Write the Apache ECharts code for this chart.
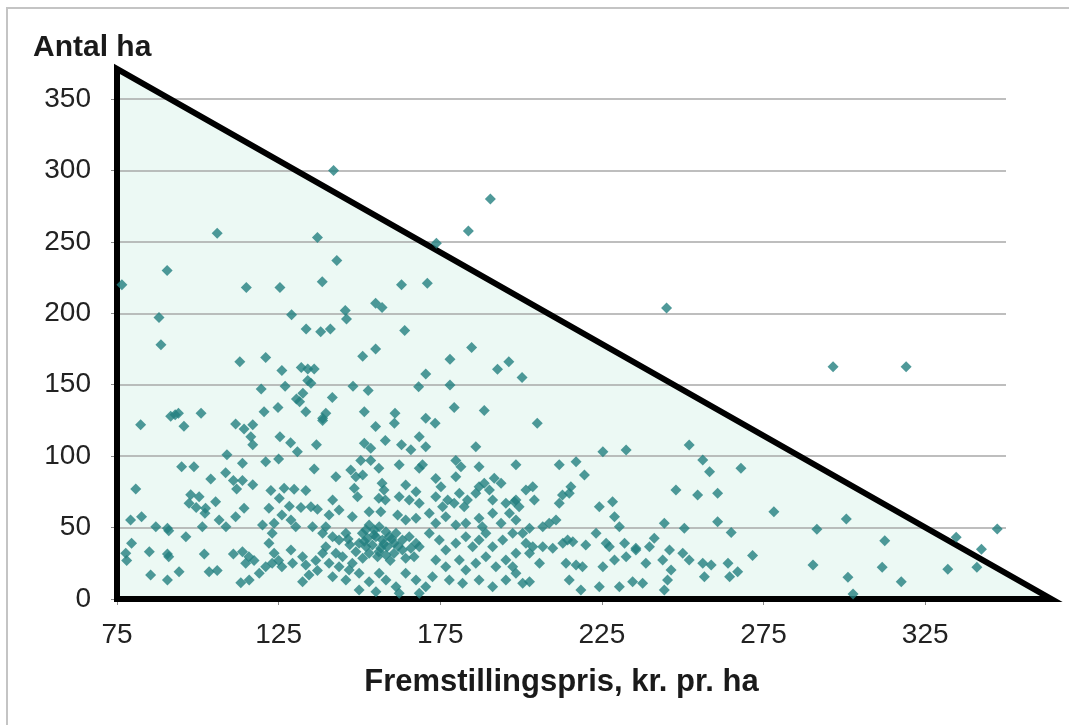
<!DOCTYPE html>
<html>
<head>
<meta charset="utf-8">
<script src="https://cdn.jsdelivr.net/npm/echarts@6/dist/echarts.min.js"></script>
<style>
  html, body { margin: 0; padding: 0; background: #fff; }
  #chart { width: 1069px; height: 725px; }
</style>
</head>
<body>
<div id="chart"></div>
<script>
// x: fremstillingspris (kr. pr. ha), y: antal ha
const upperPoints = [
  [142, 300], [106, 256], [137, 253], [143, 237], [90.5, 230], [76.5, 220], [115, 218], [125.4, 218],
  [138.5, 222], [163, 220], [155, 207], [157, 204], [129, 199], [145.6, 202], [146, 196], [88, 197],
  [88.6, 178], [133.5, 189], [138, 187], [141, 189], [164, 188], [113, 166], [121, 169], [126, 160],
  [132, 162], [134, 161], [136, 161], [134, 153], [135, 151], [132.5, 144], [130.5, 140], [131.5, 138],
  [119.6, 147], [127, 149], [141.6, 141], [148, 149], [151, 170], [155, 175], [152.7, 146],
  [173.8, 249], [183.7, 257.6], [190.5, 280], [245, 203.7], [296.5, 162.6], [319.1, 162.6],
  [171, 221], [184.7, 176], [178, 167.8], [192.7, 160.8], [196.2, 166], [200.3, 155],
  [170.5, 157.5], [168.3, 148.6], [178, 149.8], [205, 123]
];

const leftPoints = [
  [82.3, 122], [91.6, 128], [93, 129], [94, 130], [95.7, 121], [101, 130], [111.7, 122.5], [114.3, 119],
  [117, 122], [116.4, 113.6], [117, 108], [120.5, 131], [124.8, 134], [125.4, 113.6], [128.7, 109.4],
  [130.8, 103], [133.4, 131], [138.6, 125], [136.7, 108], [109, 101], [113.8, 95], [121, 96], [125, 98],
  [95, 92.6], [98.8, 92.6], [136, 91], [104, 84], [108.6, 88.4], [111, 83], [113.8, 83], [112, 77],
  [117, 80], [80.8, 77], [97.8, 73], [100.4, 71.6], [97.3, 67], [99.5, 64], [102.4, 63.5], [105.5, 68],
  [102.2, 60], [114.3, 63.5], [122.6, 76], [126.7, 77.5], [129.8, 76.8], [133.4, 76], [125.2, 70.5],
  [128.3, 65], [131.9, 64], [135, 64.6], [137, 62.8], [122, 63.5], [79.2, 55.3], [82.6, 57.6], [87, 50.6],
  [90.6, 49.5], [91, 47.8], [101.4, 50.6], [106.6, 55.3], [108.7, 50.6], [111.7, 57.6], [120, 51.8],
  [123, 46], [123.6, 53], [126, 58.8], [128.8, 55.3], [130.3, 50.6], [135.5, 50.6], [138.6, 46],
  [79.5, 39], [77.7, 32], [78, 27], [96.3, 43.6], [85, 33], [90.6, 31.5], [91, 29.6], [102, 31.5],
  [111, 31.5], [113.8, 33], [115.8, 29.6], [117.4, 27], [114.8, 25], [122, 39], [123.6, 32], [123, 25],
  [125, 27], [126, 22.6], [121, 22.6], [128.8, 34.3], [129.3, 25], [132.4, 29.6], [133.4, 23.8],
  [136.5, 27], [138.6, 32], [85.4, 16.8], [90.6, 13.3], [94.2, 19], [103.5, 19], [106, 20], [113.3, 11.4],
  [115.9, 13.3], [119, 18], [132.4, 12], [134.4, 16.8], [137, 20]
];

const middlePoints = [
  [139.6, 130], [138.6, 126.5], [151.5, 131], [161, 130], [160.8, 123], [155, 120.7], [170.5, 126.5],
  [173.4, 123], [179.3, 134], [188.6, 132], [158, 111], [151.5, 109], [153.5, 105.5], [163, 108],
  [165.9, 104.5], [168.5, 113.6], [170.5, 106.6], [186, 106.6], [150.4, 97], [153.5, 97], [162.3, 94],
  [156, 91.5], [168.5, 91.5], [169.5, 94], [179.8, 97], [181.4, 92.6], [187, 92.6], [198.4, 94],
  [142.7, 85.6], [147.3, 90.3], [148.9, 85.6], [151, 86.8], [148.4, 77.5], [149.4, 71.6], [157, 81],
  [157.6, 76.3], [156, 70.5], [158, 69.3], [164.3, 79.8], [162.3, 71.6], [165.4, 69.3], [167.5, 75],
  [168.5, 67], [173.6, 84.3], [175.2, 78.6], [173.6, 71.6], [177.3, 69.3], [175.7, 64.6], [179.8, 85.6],
  [180.9, 74], [183.4, 69.3], [182.4, 64.6], [179.3, 67], [187, 78.6], [188.6, 81], [186, 74],
  [190.2, 76.3], [191.7, 84.5], [193.8, 81], [191.2, 69.3], [195.3, 67], [197.9, 68], [141.7, 69.3],
  [140.6, 58.8], [143.7, 62.3], [147.8, 57.6], [153, 61], [156.6, 61], [161.8, 58.8], [164.3, 55.3],
  [167.5, 56.5], [171.6, 60], [173.6, 53], [176.7, 57.6], [179.8, 51.8], [182.9, 53], [187, 56.5],
  [188, 50.6], [191.2, 60], [193.8, 53], [196.4, 60], [198.4, 55.3]
];

const densePoints = [
  [153, 51.8], [154.6, 48.3], [156.1, 50.6], [158.2, 47.1], [150.9, 46], [152.5, 42.5], [155.1, 43.6],
  [157.1, 41.3], [159.2, 43.6], [161.3, 46], [149.9, 39], [152, 36.6], [154, 37.8], [156.6, 35.5],
  [158.6, 36.6], [160.7, 39], [163.3, 41.3], [165.4, 43.6], [167.5, 39], [153, 32], [155.6, 29.6],
  [158.2, 30.8], [160.7, 32], [163.3, 34.3], [165.9, 35.5], [168.5, 36.6], [148.9, 33.1], [151, 28.5],
  [164.3, 28.5], [166.9, 29.6], [151.5, 40.5], [154.5, 45], [157.5, 38.5], [160, 42], [162, 37],
  [156, 33], [159.5, 27], [152, 48.5], [147, 38], [146.5, 42],
  [139.6, 50.6], [141.7, 43.6], [143.7, 41.3], [145.8, 46], [139.6, 36.6], [142.7, 32], [144.8, 29.6],
  [140.6, 25], [143.7, 22.6], [146.8, 20.3], [141.7, 15.6], [145.8, 13.3], [147.8, 25],
  [149.9, 18], [153, 12.1], [156.1, 18], [158.2, 13.3], [161.3, 8.6], [164.3, 18], [167.5, 13.3],
  [170.5, 8.6], [149.9, 6.3], [155.1, 5.1], [162.3, 4], [168.5, 4],
  [171.6, 46], [174.7, 41.3], [176.7, 34.3], [179.8, 39], [182.9, 43.6], [185, 36.6], [187, 41.3],
  [189.1, 46], [191.2, 36.6], [194.3, 41.3], [197.4, 46], [173.6, 27.3], [176.7, 22.6], [180.9, 27.3],
  [182.9, 20.3], [186, 25], [189.1, 29.6], [192.2, 22.6], [195.3, 27.3], [198.4, 32], [172.6, 15.6],
  [177.8, 13.3], [181.9, 11], [187, 13.3], [191.2, 8.6], [195.3, 13.3], [198.4, 18]
];

const rightPoints = [
  [225.3, 103], [232.5, 104.3], [252, 107.8], [256.2, 97.3], [258.3, 89], [211.8, 94], [217, 96],
  [219.6, 86.8], [201.5, 76.3], [203.6, 78.6], [215.4, 78.6], [214.9, 74], [212.8, 72.8], [211.8, 67],
  [198.4, 69.3], [199.4, 64.6], [204.1, 69.3], [247.9, 76.3], [254.6, 72.8], [224.2, 64.6], [228.3, 68],
  [228.9, 57.6], [230.4, 50.6], [206.7, 50.6], [208.7, 53], [210.8, 55.3], [202.6, 49.5], [200.5, 46],
  [244.3, 53], [250.5, 49.5], [223.2, 46], [220, 37.8], [226.3, 39], [227.3, 36.6], [232, 39],
  [235.5, 35.5], [239.7, 36.6], [241.2, 42.5], [201.5, 39], [203.6, 36.6], [206.7, 36.6], [209.8, 35.5],
  [212.9, 39], [214.4, 41.3], [216, 40.1], [197.4, 22.6], [202.6, 32], [205.7, 25], [213.9, 25],
  [217, 23.8], [219, 22.6], [214.9, 13.3], [225.3, 22.6], [224.2, 8.6], [230.4, 8.6], [228.9, 27.3],
  [232.5, 29.6], [235.5, 34.3], [238.6, 25], [237.6, 11], [234.5, 12.1], [243.8, 27.3], [245.9, 34.3],
  [250, 32], [252, 27.3], [246.4, 20.3], [245.3, 13.3], [244.3, 6.3], [256.2, 25], [256.7, 15.6],
  [200.5, 11], [202.6, 12.1], [218.5, 6.3]
];

const farRightPoints = [
  [268, 91.5], [260.8, 74], [278.2, 61], [260.8, 54], [265, 46.5], [271.6, 30.5], [264, 25], [267, 19],
  [264.5, 15.6], [258.8, 23.8], [291.5, 48.8], [290.3, 23.8], [300.6, 56], [301.1, 15.2], [302.7, 3.5],
  [312.5, 40.8], [311.7, 22.2], [317.6, 12.1], [334.6, 43.2], [332, 20.8], [342.4, 34.8], [341, 22.2],
  [347.3, 49]
];

const points = upperPoints.concat(leftPoints, middlePoints, densePoints, rightPoints, farRightPoints);

// corners of the triangle frame
const triangleX = [75, 75, 364];
const triangleY = [371, 0, 0];

const xTicks = [75, 125, 175, 225, 275, 325];

const myChart = echarts.init(document.getElementById("chart"));

function triangleShape(api) {
  return { points: triangleX.map((x, i) => api.coord([x, triangleY[i]])) };
}

const option = {
  animation: false,
  textStyle: { fontFamily: "Liberation Sans, Arial, sans-serif" },
  title: {
    text: "Antal ha",
    left: 28,
    top: 28,
    textStyle: { fontSize: 30, fontWeight: "bold", color: "#1a1a1a" },
  },
  graphic: [
    {
      type: "rect",
      shape: { x: 7, y: 8, width: 1100, height: 760 },
      style: { fill: "none", stroke: "#c4c4c4", lineWidth: 2 },
      silent: true,
    },
  ],
  grid: { left: 117, top: 99, width: 889, height: 500 },
  xAxis: {
    type: "value",
    min: 75,
    max: 350,
    name: "Fremstillingspris, kr. pr. ha",
    nameLocation: "middle",
    nameGap: 68,
    nameTextStyle: { fontSize: 31, fontWeight: "bold", color: "#1a1a1a" },
    axisLine: { show: false },
    axisTick: { show: true, length: 6, customValues: xTicks, lineStyle: { color: "#888" } },
    axisLabel: { customValues: xTicks, fontSize: 28, color: "#222", margin: 22 },
    splitLine: { show: false },
  },
  yAxis: {
    type: "value",
    min: 0,
    max: 350,
    interval: 50,
    axisLine: { show: false },
    axisTick: { show: true, length: 6, lineStyle: { color: "#888" } },
    axisLabel: { fontSize: 28, color: "#222", margin: 26 },
    splitLine: { lineStyle: { color: "#a8a8a8", width: 1.5 } },
  },
  series: [
    {
      type: "custom",
      z: -1,
      silent: true,
      clip: false,
      data: [[75, 0]],
      renderItem(params, api) {
        return { type: "polygon", shape: triangleShape(api), style: { fill: "#ecf9f4" } };
      },
    },
    {
      type: "custom",
      z: 1,
      silent: true,
      clip: false,
      data: [[75, 0]],
      renderItem(params, api) {
        return {
          type: "polygon",
          shape: triangleShape(api),
          style: { fill: "none", stroke: "#000", lineWidth: 6, lineJoin: "miter" },
        };
      },
    },
    {
      type: "scatter",
      z: 2,
      symbol: "diamond",
      symbolSize: [11, 11],
      data: points,
      itemStyle: { color: "#23807f" },
    },
  ],
};

option && myChart.setOption(option);
</script>
</body>
</html>
